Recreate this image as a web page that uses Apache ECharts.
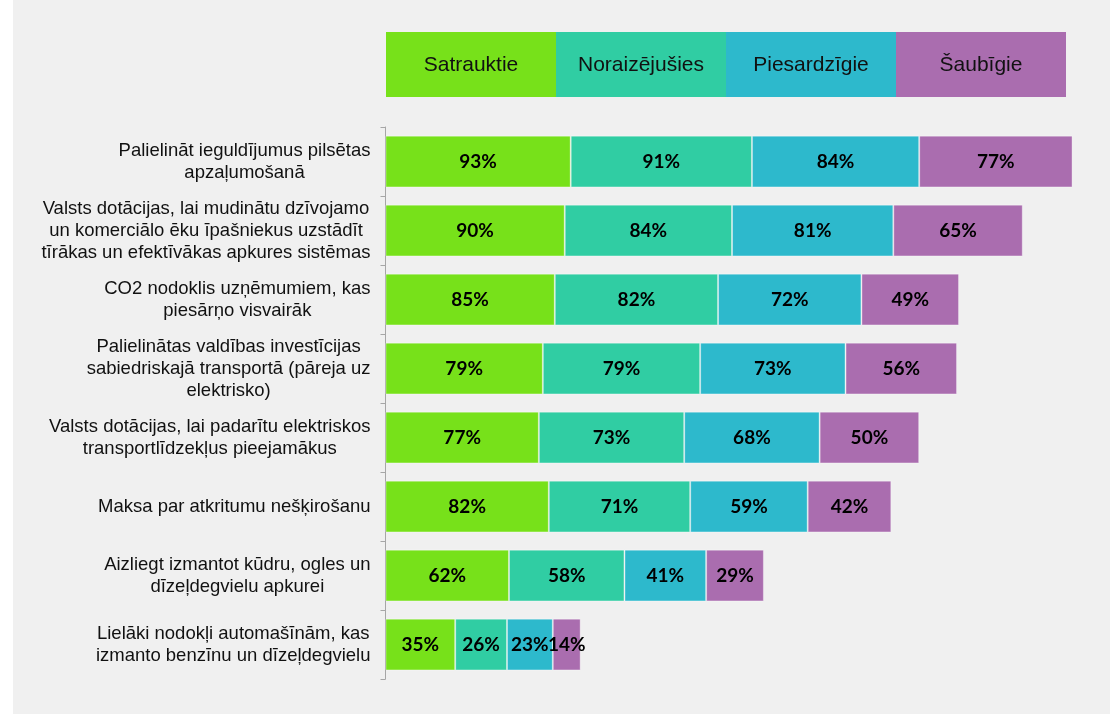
<!DOCTYPE html>
<html>
<head>
<meta charset="utf-8">
<script src="https://cdn.jsdelivr.net/npm/echarts@6/dist/echarts.min.js"></script>
<style>
  html, body { margin: 0; padding: 0; background: #ffffff; }
  #chart { position: absolute; left: 13px; top: 0; width: 1097px; height: 714px; }
</style>
</head>
<body>
<div id="chart"></div>
<script>
// kategorijas (no augšas uz leju)
const categories = [
  'Palielināt ieguldījumus pilsētas\napzaļumošanā',
  'Valsts dotācijas, lai mudinātu dzīvojamo\nun komerciālo ēku īpašniekus uzstādīt\ntīrākas un efektīvākas apkures sistēmas',
  'CO2 nodoklis uzņēmumiem, kas\npiesārņo visvairāk',
  'Palielinātas valdības investīcijas\nsabiedriskajā transportā (pāreja uz\nelektrisko)',
  'Valsts dotācijas, lai padarītu elektriskos\ntransportlīdzekļus pieejamākus',
  'Maksa par atkritumu nešķirošanu',
  'Aizliegt izmantot kūdru, ogles un\ndīzeļdegvielu apkurei',
  'Lielāki nodokļi automašīnām, kas\nizmanto benzīnu un dīzeļdegvielu'
]
const seriesNames = ['Satrauktie', 'Noraizējušies', 'Piesardzīgie', 'Šaubīgie']
const satrauktie = [93, 90, 85, 79, 77, 82, 62, 35]
const noraizejusies = [91, 84, 82, 79, 73, 71, 58, 26]
const piesardzigie = [84, 81, 72, 73, 68, 59, 41, 23]
const saubigie = [77, 65, 49, 56, 50, 42, 29, 14]
const colors = ['#77e11a', '#30cda3', '#2db9cc', '#aa6daf']

const seriesData = [satrauktie, noraizejusies, piesardzigie, saubigie]

const chart = echarts.init(document.getElementById('chart'))

// leģenda kā krāsainas kastes ar tekstu
const legendLeft = 373
const legendBoxW = 170
const legendGraphic = seriesNames.map((name, i) => ({
  type: 'group',
  left: legendLeft + i * legendBoxW,
  top: 32,
  children: [
    {
      type: 'rect',
      shape: { x: 0, y: 0, width: legendBoxW, height: 65 },
      style: { fill: colors[i] }
    },
    {
      type: 'text',
      x: legendBoxW / 2,
      y: 33,
      style: {
        text: name,
        fill: '#111',
        font: '21px "Liberation Sans", Arial, sans-serif',
        align: 'center',
        verticalAlign: 'middle'
      }
    }
  ]
}))

const option = {
  backgroundColor: '#f0f0f0',
  animation: false,
  color: colors,
  grid: {
    left: 372.5,
    top: 127,
    width: 697,
    height: 552
  },
  xAxis: {
    type: 'value',
    min: 0,
    max: 350,
    show: false
  },
  yAxis: {
    type: 'category',
    inverse: true,
    data: categories,
    axisLine: { show: true, lineStyle: { color: '#a6a6a6', width: 1 } },
    axisTick: { show: true, length: 5, lineStyle: { color: '#a6a6a6' } },
    axisLabel: {
      margin: 15,
      align: 'right',
      formatter: function (value) {
        return value.split('\n').map(l => '{c|' + l + '}').join('\n')
      },
      rich: {
        c: {
          align: 'center',
          fontSize: 18.5,
          lineHeight: 22,
          color: '#111',
          fontFamily: '"Liberation Sans", Arial, sans-serif'
        }
      }
    }
  },
  graphic: legendGraphic,
  series: seriesData.map((d, i) => ({
    name: seriesNames[i],
    type: 'bar',
    stack: 'total',
    barCategoryGap: '25%',
    data: d,
    itemStyle: {
      color: colors[i],
      borderColor: 'rgba(255,255,255,0.35)',
      borderWidth: 1
    },
    label: {
      show: true,
      position: 'inside',
      formatter: '{c}%',
      color: '#000',
      fontSize: 19,
      fontWeight: 'bold',
      fontFamily: 'Lato, "Open Sans", sans-serif'
    }
  }))
}

chart.setOption(option)
</script>
</body>
</html>
